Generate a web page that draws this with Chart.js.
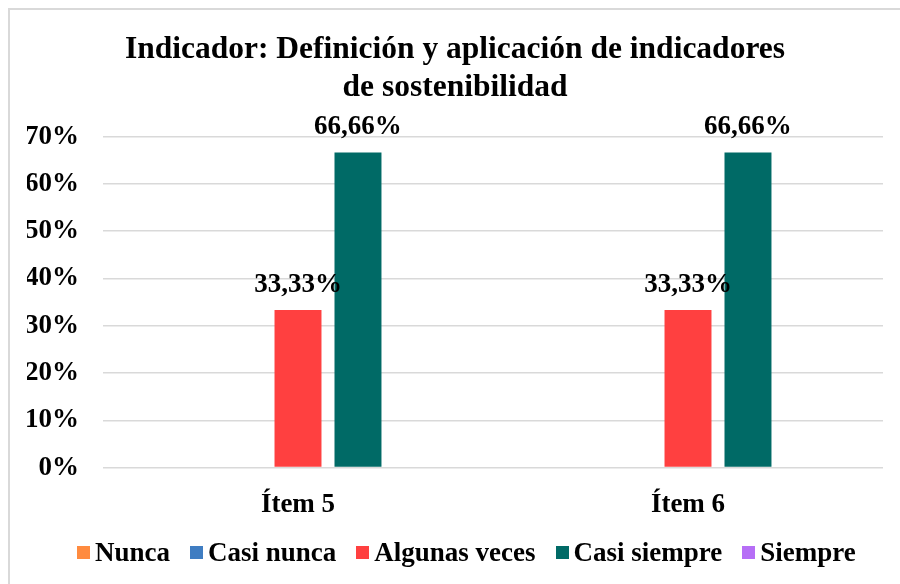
<!DOCTYPE html>
<html>
<head>
<meta charset="utf-8">
<script src="https://cdn.jsdelivr.net/npm/chart.js@4.4.1/dist/chart.umd.min.js"></script>
<style>
  body { margin: 0; background: #fff; }
  .frame {
    position: absolute; left: 8px; top: 8px; width: 892px; height: 576px;
    border-left: 2px solid #D9D9D9; border-top: 2px solid #D9D9D9;
  }
  .graph { position: absolute; left: 0; top: 0; width: 890px; height: 574px; }
  .legend {
    position: absolute; left: 77px; top: 537px; display: flex; align-items: center;
    font: bold 27px "Liberation Serif", "Times New Roman", serif; color: #000;
  }
  .legend .item { display: flex; align-items: center; margin-right: 20px; }
  .legend .box { width: 13px; height: 13px; margin-right: 5px; }
</style>
</head>
<body>
<div class="frame">
  <div class="graph"><canvas id="chart"></canvas></div>
</div>
<div class="legend" id="legend"></div>
<script>
const categories = ['Ítem 5', 'Ítem 6'];
const seriesNames = ['Nunca', 'Casi nunca', 'Algunas veces', 'Casi siempre', 'Siempre'];
const nunca = [0, 0];
const casiNunca = [0, 0];
const algunasVeces = [33.33, 33.33];
const casiSiempre = [66.66, 66.66];
const siempre = [0, 0];
const seriesColors = ['#FF8B3F', '#3F7DC2', '#FF4040', '#006A66', '#B66EF6'];
const yTicks = [0, 10, 20, 30, 40, 50, 60, 70];

const FONT = '"Liberation Serif", "Times New Roman", serif';

const valueLabels = {
  id: 'valueLabels',
  afterDatasetsDraw(chart) {
    const { ctx } = chart;
    ctx.save();
    ctx.font = 'bold 27px ' + FONT;
    ctx.fillStyle = '#000';
    ctx.textAlign = 'center';
    ctx.textBaseline = 'alphabetic';
    chart.data.datasets.forEach((ds, i) => {
      const meta = chart.getDatasetMeta(i);
      ds.data.forEach((v, j) => {
        if (!v) return;
        const bar = meta.data[j];
        ctx.fillText(v.toFixed(2).replace('.', ',') + '%', bar.x, bar.y - 18);
      });
    });
    ctx.restore();
  }
};

const allData = [nunca, casiNunca, algunasVeces, casiSiempre, siempre];

const config = {
  type: 'bar',
  data: {
    labels: categories,
    datasets: seriesNames.map((name, i) => ({
      label: name,
      data: allData[i],
      backgroundColor: seriesColors[i],
      categoryPercentage: 0.769,
      barPercentage: 0.783
    }))
  },
  options: {
    responsive: true,
    maintainAspectRatio: false,
    animation: false,
    layout: { padding: { left: 17, right: 17, top: 0, bottom: 50 } },
    plugins: {
      legend: { display: false },
      tooltip: { enabled: false },
      title: {
        display: true,
        text: ['Indicador: Definición y aplicación de indicadores', 'de sostenibilidad'],
        color: '#000',
        font: { family: FONT, size: 31.5, weight: 'bold', lineHeight: 1.2 },
        padding: { top: 21, bottom: 30 }
      }
    },
    scales: {
      x: {
        grid: { display: false },
        border: { display: false },
        ticks: { color: '#000', font: { family: FONT, size: 27, weight: 'bold' }, padding: 13 }
      },
      y: {
        min: 0,
        max: 70,
        afterFit(scale) { scale.width = 76; },
        afterBuildTicks(scale) { scale.ticks = yTicks.map(v => ({ value: v })); },
        grid: { color: '#D9D9D9', lineWidth: 1.5, drawTicks: false },
        border: { display: false },
        ticks: {
          color: '#000',
          font: { family: FONT, size: 27, weight: 'bold' },
          padding: 24,
          callback: v => v + '%'
        }
      }
    }
  },
  plugins: [valueLabels]
};

const chart = new Chart(document.getElementById('chart'), config);

const legend = document.getElementById('legend');
chart.data.datasets.forEach(ds => {
  legend.insertAdjacentHTML('beforeend',
    `<div class="item"><div class="box" style="background:${ds.backgroundColor}"></div>${ds.label}</div>`);
});
</script>
</body>
</html>
